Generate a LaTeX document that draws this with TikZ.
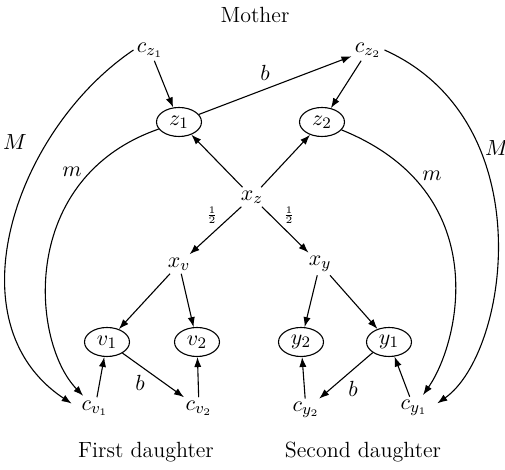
\documentclass[tikz,border=0pt]{standalone}
\usetikzlibrary{shapes.geometric,arrows.meta}
\begin{document}
\begin{tikzpicture}[x=0.5pt,y=-0.5pt,
  font=\fontsize{11}{13}\selectfont,
  ell/.style={ellipse, draw, line width=0.55pt, minimum width=22.5pt, minimum height=14.5pt, inner sep=0pt},
  var/.style={inner sep=1.5pt},
  lbl/.style={inner sep=0pt},
  arr/.style={-{Latex[length=5pt,width=3.6pt]}, line width=0.55pt}]
\useasboundingbox (0,0) rectangle (505,470);
% texts
\node (mother) at (255,15) {Mother};
\node (first) at (146,452) {First daughter};
\node (second) at (363,452) {Second daughter};
% nodes
\node[var] (cz1) at (150,50) {$c_{z_1}$};
\node[var] (cz2) at (368,50) {$c_{z_2}$};
\node[ell] (z1) at (179,122) {$z_1$};
\node[ell] (z2) at (322,122) {$z_2$};
\node[var] (xz) at (252,197) {$x_z$};
\node[var] (xv) at (179,264) {$x_v$};
\node[var] (xy) at (320,264) {$x_y$};
\node[ell] (v1) at (107,342) {$v_1$};
\node[ell] (v2) at (197,342) {$v_2$};
\node[ell] (y2) at (301,342) {$y_2$};
\node[ell] (y1) at (389,342) {$y_1$};
\node[var] (cv1) at (95,408) {$c_{v_1}$};
\node[var] (cv2) at (199,408) {$c_{v_2}$};
\node[var] (cy2) at (306,410) {$c_{y_2}$};
\node[var] (cy1) at (414,408) {$c_{y_1}$};
% labels
\node[lbl] (lb1) at (265,73) {$b$};
\node[lbl] (lb2) at (140,383) {$b$};
\node[lbl] (lb3) at (353,389) {$b$};
\node[lbl] (lh1) at (212,215) {\scriptsize$\frac{1}{2}$};
\node[lbl] (lh2) at (289,215) {\scriptsize$\frac{1}{2}$};
\node[lbl] (lM1) at (15,142) {$M$};
\node[lbl] (lm1) at (72,172) {$m$};
\node[lbl] (lm2) at (432,176) {$m$};
\node[lbl] (lM2) at (497,148) {$M$};
% straight connectors
\draw[arr] (cz1) -- (z1);
\draw[arr] (cz2) -- (z2);
\draw[arr] (z1) -- (cz2);
\draw[arr] (xz) -- (z1);
\draw[arr] (xz) -- (z2);
\draw[arr] (xz) -- (xv);
\draw[arr] (xz) -- (xy);
\draw[arr] (xv) -- (v1);
\draw[arr] (xv) -- (v2);
\draw[arr] (xy) -- (y2);
\draw[arr] (xy) -- (y1);
\draw[arr] (cv1) -- (v1);
\draw[arr] (cv2) -- (v2);
\draw[arr] (cy2) -- (y2);
\draw[arr] (cy1) -- (y1);
\draw[arr] (v1) -- (cv2);
\draw[arr] (y1.south west) -- (cy2);
% curved connectors
\draw[arr, shorten >=4pt] (cz1.west) .. controls (15,130) and (-50,323) .. (cv1.west);
\draw[arr, shorten >=1pt] (z1) .. controls (18,178) and (31,342) .. (cv1);
\draw[arr, shorten >=4pt] (cz2.east) .. controls (543,121) and (509,353) .. (cy1.east);
\draw[arr, shorten >=1pt] (z2) .. controls (495,192) and (460,342) .. (cy1);
\end{tikzpicture}
\end{document}
